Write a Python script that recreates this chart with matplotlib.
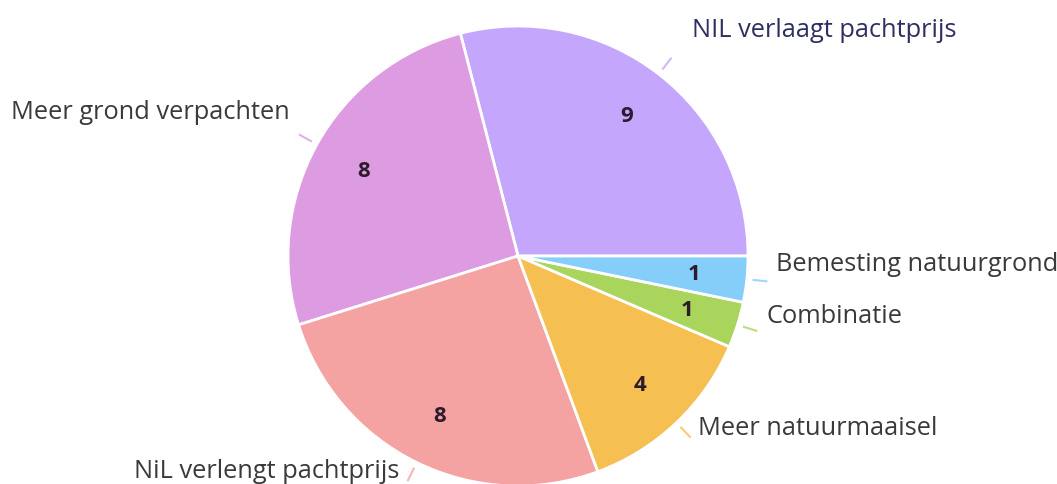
import numpy as np
import matplotlib.pyplot as plt

# data
labels = ['NIL verlaagt pachtprijs', 'Meer grond verpachten', 'NiL verlengt pachtprijs',
          'Meer natuurmaaisel', 'Combinatie', 'Bemesting natuurgrond']
values = [9, 8, 8, 4, 1, 1]
colors = ['#C4A6FC', '#DD9BE1', '#F5A2A2', '#F6BF52', '#A9D55C', '#86CEFA']
text_colors = ['#2E2E62', '#3A3A3A', '#3A3A3A', '#3A3A3A', '#3A3A3A', '#3A3A3A']
# label offsets from tick end (pixels), and alignment
label_offsets = [(21, 28), (-9, 23), (-8, 11), (7, 10), (9, 16), (9, 18)]
label_ha = ['left', 'right', 'right', 'left', 'left', 'left']

W, H = 1057, 485
cx, cy, R = 518, 257, 230  # pie centre / radius in pixels

fig = plt.figure(figsize=(W / 100, H / 100), dpi=100)
ax = fig.add_axes([0, 0, 1, 1])

wedges, texts = ax.pie(values, colors=colors, startangle=0, counterclock=True,
                       labels=[str(v) for v in values], labeldistance=0.77,
                       wedgeprops=dict(edgecolor='white', linewidth=2),
                       textprops=dict(fontsize=16, color='#2B1B2B', family='Open Sans',
                                      fontweight='bold'))
for t in texts:
    t.set_ha('center')
    t.set_va('center')

# leader ticks and labels
for w, lab, col, tc, off, ha in zip(wedges, labels, colors, text_colors, label_offsets, label_ha):
    ang = np.deg2rad((w.theta1 + w.theta2) / 2)
    r0, r1 = 1.025, 1.09
    ax.plot([r0 * np.cos(ang), r1 * np.cos(ang)], [r0 * np.sin(ang), r1 * np.sin(ang)],
            color=col, lw=1.5, alpha=0.8, solid_capstyle='butt')
    ax.annotate(lab, xy=(r1 * np.cos(ang), r1 * np.sin(ang)), xytext=off,
                textcoords='offset pixels', ha=ha, va='center',
                fontsize=18.3, color=tc, family=['Open Sans', 'DejaVu Sans'])

ax.set_xlim(-cx / R, (W - cx) / R)
ax.set_ylim(-(H - cy) / R, cy / R)
ax.set_aspect('auto')
ax.axis('off')

fig.savefig('out.png', dpi=100, facecolor='white')
